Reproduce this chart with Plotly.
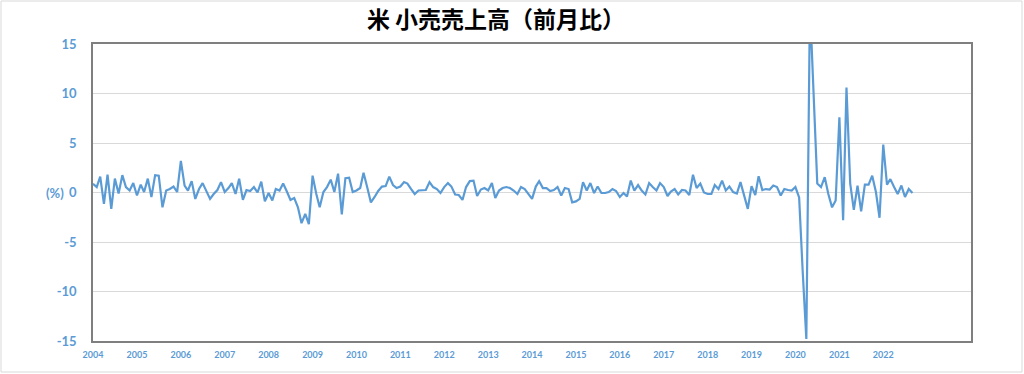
import pandas as pd
import plotly.graph_objects as go

# ---- data -------------------------------------------------------------
title_text = "米 小売売上高（前月比）"
start_month = "2004-01-01"
mom_pct = [
    # 2004
    0.88, 0.54, 1.6, -1.15, 1.8, -1.65, 1.4, -0.1, 1.75, 0.55, 0.2, 0.95,
    # 2005
    -0.3, 0.8, 0.05, 1.4, -0.45, 1.75, 1.7, -1.5, 0.2, 0.35, 0.6, 0.05,
    # 2006
    3.2, 0.7, 0.2, 1.15, -0.65, 0.35, 0.95, 0.2, -0.65, -0.15, 0.25, 1.05,
    # 2007
    0.05, 0.45, 0.95, -0.15, 1.4, -0.75, 0.25, 0.15, 0.55, 0.0, 1.1, -0.9,
    # 2008
    -0.05, -0.8, 0.35, 0.2, 0.9, 0.1, -0.75, -0.55, -1.5, -3.1, -2.15, -3.2,
    # 2009
    1.7, -0.15, -1.5, 0.05, 0.55, 1.3, 0.05, 1.9, -2.2, 1.45, 1.5, 0.05,
    # 2010
    0.2, 0.45, 2.0, 0.5, -1.0, -0.45, 0.15, 0.6, 0.65, 1.6, 0.75, 0.45,
    # 2011
    0.6, 1.05, 0.9, 0.35, -0.15, 0.2, 0.25, 0.25, 1.05, 0.55, 0.35, -0.05,
    # 2012
    0.55, 0.95, 0.6, -0.2, -0.25, -0.75, 0.55, 1.15, 1.2, -0.35, 0.3, 0.45,
    # 2013
    0.2, 0.95, -0.55, 0.2, 0.45, 0.55, 0.45, 0.2, -0.15, 0.55, 0.35, -0.15,
    # 2014
    -0.65, 0.6, 1.15, 0.45, 0.45, 0.15, 0.25, 0.55, -0.3, 0.45, 0.35, -1.0,
    # 2015
    -0.9, -0.65, 1.05, 0.2, 0.95, -0.05, 0.6, -0.05, -0.05, 0.05, 0.35, 0.15,
    # 2016
    -0.45, -0.05, -0.4, 1.2, 0.2, 0.75, 0.2, -0.2, 0.95, 0.55, 0.2, 0.95,
    # 2017
    0.55, -0.35, 0.1, 0.35, -0.2, 0.25, 0.2, -0.25, 1.8, 0.45, 0.9, 0.0,
    # 2018
    -0.15, -0.15, 0.75, 0.35, 1.2, 0.2, 0.6, 0.05, -0.1, 1.05, -0.3, -1.65,
    # 2019
    0.65, -0.25, 1.65, 0.25, 0.35, 0.3, 0.7, 0.55, -0.3, 0.35, 0.25, 0.2,
    # 2020
    0.55, -0.5, -7.8, -14.8, 19.0, 9.5, 0.9, 0.55, 1.55, -0.15, -1.5, -0.8,
    # 2021
    7.6, -2.8, 10.6, 0.9, -1.75, 0.7, -1.9, 0.8, 0.8, 1.7, 0.05, -2.55,
    # 2022
    4.85, 0.8, 1.35, 0.55, -0.15, 0.7, -0.45, 0.35, -0.05,
]
tick_years = list(range(2004, 2023))
y_ticks = [15, 10, 5, 0, -5, -10, -15]
y_unit = "(%)"

# ---- figure -----------------------------------------------------------
months = pd.date_range(start_month, periods=len(mom_pct), freq="MS")
BLUE = "#5b9bd5"

fig = go.Figure()
fig.add_trace(go.Scatter(
    x=months, y=mom_pct, mode="lines",
    line=dict(color=BLUE, width=2.2),
    hoverinfo="x+y", showlegend=False,
))

W, H = 1024, 374
L, R, T, B = 93, 53, 44, 33
pw, ph = W - L - R, H - T - B

fig.update_layout(
    width=W, height=H,
    margin=dict(l=L, r=R, t=T, b=B),
    paper_bgcolor="white", plot_bgcolor="white",
    title=dict(
        text=title_text, x=496 / W, xanchor="center", y=1 - 20 / H, yanchor="middle",
        font=dict(family="Noto Sans CJK JP", size=23, color="#000000", weight="bold"),
    ),
    xaxis=dict(
        range=["2004-01-01", "2024-01-01"],
        tickvals=[pd.Timestamp(f"{y}-01-01") for y in tick_years],
        ticktext=[str(y) for y in tick_years],
        tickfont=dict(family="Lato", size=9, color=BLUE, weight="bold"),
        showgrid=False, zeroline=False,
        showline=True, linecolor="#7f7f7f", linewidth=1.5, mirror=True,
        ticks="", ticklabelstandoff=4,
    ),
    yaxis=dict(
        range=[-15, 15], tickvals=y_ticks, ticktext=[str(v) for v in y_ticks],
        tickfont=dict(family="Lato", size=13, color=BLUE, weight="bold"),
        showgrid=True, gridcolor="#d9d9d9", gridwidth=1, zeroline=False,
        showline=True, linecolor="#7f7f7f", linewidth=1.5, mirror=True,
        ticks="", ticklabelstandoff=12,
    ),
)

fig.add_annotation(
    x=-(L - 66) / pw, y=0, xref="paper", yref="y",
    text=y_unit, showarrow=False, xanchor="right", yanchor="middle",
    font=dict(family="Lato", size=13, color=BLUE, weight="bold"),
)

# outer light frame around the whole chart
fig.add_shape(
    type="rect", xref="paper", yref="paper",
    x0=(1 - L) / pw, x1=(W - 2 - L) / pw,
    y0=-(B - 2) / ph, y1=1 + (T - 1) / ph,
    line=dict(color="#d9d9d9", width=1), layer="below",
)

fig.write_html(
    "out.html",
    config={"displayModeBar": False},
    post_script="document.body.style.margin='0';document.body.style.overflow='hidden';",
)
